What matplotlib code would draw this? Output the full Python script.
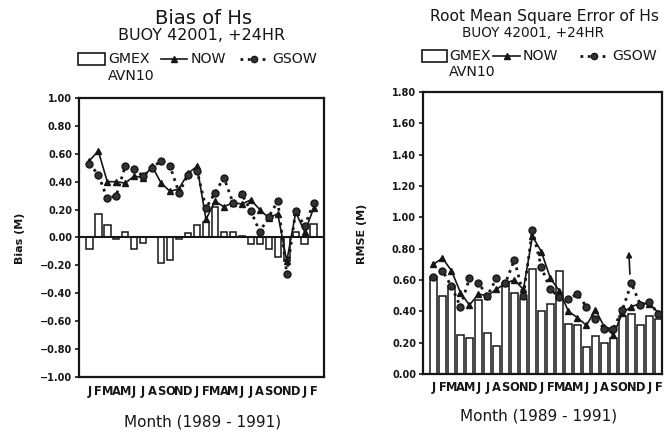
import matplotlib
matplotlib.use('Agg')
import matplotlib.pyplot as plt
from matplotlib.lines import Line2D
from matplotlib.patches import Rectangle
from matplotlib.ticker import FuncFormatter
import numpy as np

# ---------------- data ----------------
months = list("JFMAMJJASONDJFMAMJJASONDJF")   # Jan 1989 .. Feb 1991

bias_gmex = [-0.08, 0.17, 0.09, -0.01, 0.04, -0.08, -0.04, 0.00, -0.18, -0.16,
             -0.01, 0.03, 0.09, 0.11, 0.22, 0.04, 0.04, 0.01, -0.05, -0.05,
             -0.08, -0.14, -0.17, 0.04, -0.05, 0.10]
bias_now = [0.55, 0.62, 0.40, 0.40, 0.39, 0.44, 0.43, 0.51, 0.39, 0.33,
            0.35, 0.46, 0.51, 0.13, 0.26, 0.22, 0.25, 0.24, 0.27, 0.20,
            0.14, 0.17, -0.17, 0.18, 0.04, 0.21]
bias_gsow = [0.53, 0.45, 0.28, 0.30, 0.51, 0.49, 0.44, 0.50, 0.55, 0.51,
             0.32, 0.45, 0.48, 0.21, 0.32, 0.43, 0.25, 0.31, 0.19, 0.04,
             0.15, 0.26, -0.26, 0.19, 0.08, 0.25]

rmse_gmex = [0.62, 0.50, 0.56, 0.25, 0.23, 0.47, 0.26, 0.18, 0.58, 0.52,
             0.48, 0.67, 0.40, 0.45, 0.66, 0.32, 0.31, 0.17, 0.24, 0.20,
             0.23, 0.37, 0.38, 0.31, 0.37, 0.35]
rmse_now = [0.70, 0.74, 0.66, 0.52, 0.44, 0.51, 0.50, 0.54, 0.58, 0.60,
            0.54, 0.88, 0.78, 0.61, 0.53, 0.40, 0.36, 0.31, 0.41, 0.30,
            0.25, 0.39, 0.43, 0.45, 0.45, 0.39]
rmse_gsow = [0.62, 0.66, 0.56, 0.43, 0.61, 0.58, 0.50, 0.61, 0.58, 0.73,
             0.50, 0.92, 0.68, 0.54, 0.49, 0.48, 0.51, 0.43, 0.35, 0.29,
             0.29, 0.41, 0.58, 0.44, 0.46, 0.38]

bias_ticks = [-1.0, -0.8, -0.6, -0.4, -0.2, 0.0, 0.2, 0.4, 0.6, 0.8, 1.0]
rmse_ticks = [0.0, 0.2, 0.4, 0.6, 0.8, 1.0, 1.2, 1.4, 1.6, 1.8]

# ---------------- figure ----------------
W, H = 664, 434
fig = plt.figure(figsize=(W / 100, H / 100), dpi=100)
fig.patch.set_facecolor('white')
INK = '#161616'
plt.rcParams['font.family'] = 'DejaVu Sans'


def fx(px):
    return px / W


def fy(py):
    return 1 - py / H


def fmt(v, pos):
    s = '%.2f' % abs(v)
    return ('\u2212' + s) if v < -1e-9 else s


def style_axes(ax, ticks, xlim, ylim, xpad):
    ax.set_xlim(*xlim)
    ax.set_ylim(*ylim)
    ax.set_yticks(ticks)
    ax.yaxis.set_major_formatter(FuncFormatter(fmt))
    ax.set_xticks(np.arange(1, len(months) + 1))
    ax.set_xticklabels(months)
    for sp in ax.spines.values():
        sp.set_linewidth(1.6)
        sp.set_color(INK)
    ax.tick_params(axis='y', direction='out', length=3, width=1.2,
                   labelsize=7, colors=INK, pad=2)
    ax.tick_params(axis='x', length=0, labelsize=8.3, colors=INK, pad=xpad)
    for lab in ax.get_yticklabels() + ax.get_xticklabels():
        lab.set_fontweight('bold')


x = np.arange(1, len(months) + 1)

# ---------- left: bias ----------
ax1 = fig.add_axes([fx(79), fy(377), fx(324) - fx(79), fy(98) - fy(377)])
ax1.bar(x, bias_gmex, width=0.72, facecolor='white', edgecolor=INK,
        linewidth=1.1, zorder=2)
ax1.axhline(0, color=INK, lw=1.5, zorder=3)
ax1.plot(x, bias_now, '-', color=INK, lw=1.2, marker='^', ms=4.5,
         zorder=4)
ax1.plot(x, bias_gsow, ':', color=INK, lw=2.0, marker='o', ms=5,
         markerfacecolor='#333333', markeredgecolor=INK, zorder=5)
style_axes(ax1, bias_ticks, (-0.15, 27.15), (-1.0, 1.0), 6)

# ---------- right: RMSE ----------
ax2 = fig.add_axes([fx(423), fy(374), fx(662) - fx(423), fy(92) - fy(374)])
ax2.bar(x, rmse_gmex, width=0.7, facecolor='white', edgecolor=INK,
        linewidth=1.1, zorder=2)
ax2.plot(x, rmse_now, '-', color=INK, lw=1.2, marker='^', ms=4.5, zorder=4)
ax2.plot(x, rmse_gsow, ':', color=INK, lw=2.0, marker='o', ms=5,
         markerfacecolor='#333333', markeredgecolor=INK, zorder=5)
ax2.annotate('', xy=(22.7, 0.80), xytext=(22.85, 0.62),
             arrowprops=dict(arrowstyle='-|>', lw=1.2, color=INK,
                             mutation_scale=8), zorder=6)
style_axes(ax2, rmse_ticks, (-0.16, 26.4), (0.0, 1.8), 5)

# ---------- titles ----------
fig.text(fx(203), fy(18), 'Bias of Hs', ha='center', va='center',
         fontsize=14, color=INK)
fig.text(fx(202), fy(35), 'BUOY 42001, +24HR', ha='center', va='center',
         fontsize=11.5, color=INK)
fig.text(fx(544), fy(16), 'Root Mean Square Error of Hs', ha='center',
         va='center', fontsize=11.2, color=INK)
fig.text(fx(533), fy(33), 'BUOY 42001, +24HR', ha='center', va='center',
         fontsize=9.8, color=INK)

# axis labels
fig.text(fx(20), fy(238), 'Bias (M)', rotation=90, ha='center',
         va='center', fontsize=8, fontweight='bold', color=INK)
fig.text(fx(362), fy(234), 'RMSE (M)', rotation=90, ha='center',
         va='center', fontsize=8, fontweight='bold', color=INK)
fig.text(fx(203), fy(422), 'Month (1989 - 1991)', ha='center', va='center',
         fontsize=11, color=INK)
fig.text(fx(539), fy(416), 'Month (1989 - 1991)', ha='center', va='center',
         fontsize=11, color=INK)


# ---------- legends ----------
def legend(x_rect, y_c, rect_w, rect_h, x_gmex, x_now_h, x_now_t,
           x_gsow_h, x_gsow_t, y_avn, fs):
    fig.add_artist(Rectangle((fx(x_rect), fy(y_c + rect_h / 2)),
                             fx(rect_w), rect_h / H, fill=False,
                             edgecolor=INK, lw=1.2,
                             transform=fig.transFigure))
    fig.text(fx(x_gmex), fy(y_c), 'GMEX', ha='left', va='center',
             fontsize=fs, color=INK)
    fig.add_artist(Line2D([fx(x_now_h[0]), fx(x_now_h[1])], [fy(y_c)] * 2,
                          color=INK, lw=1.2, transform=fig.transFigure))
    fig.add_artist(Line2D([fx(sum(x_now_h) / 2)], [fy(y_c)], color=INK,
                          marker='^', ms=4.5, transform=fig.transFigure))
    fig.text(fx(x_now_t), fy(y_c), 'NOW', ha='left', va='center',
             fontsize=fs, color=INK)
    fig.add_artist(Line2D([fx(x_gsow_h[0]), fx(x_gsow_h[1])], [fy(y_c)] * 2,
                          color=INK, lw=2.0, ls=':',
                          transform=fig.transFigure))
    fig.add_artist(Line2D([fx(sum(x_gsow_h) / 2)], [fy(y_c)], color=INK,
                          marker='o', ms=4.5, markerfacecolor='#333333',
                          transform=fig.transFigure))
    fig.text(fx(x_gsow_t), fy(y_c), 'GSOW', ha='left', va='center',
             fontsize=fs, color=INK)
    fig.text(fx(x_gmex), fy(y_avn), 'AVN10', ha='left', va='center',
             fontsize=fs, color=INK)


legend(78, 59, 27, 12, 108, (161, 187), 191, (240, 268), 272, 76, 10.2)
legend(422, 56, 25, 12, 449, (493, 520), 523, (580, 608), 612, 72, 10.2)

fig.savefig('out.png', dpi=100, facecolor='white')
